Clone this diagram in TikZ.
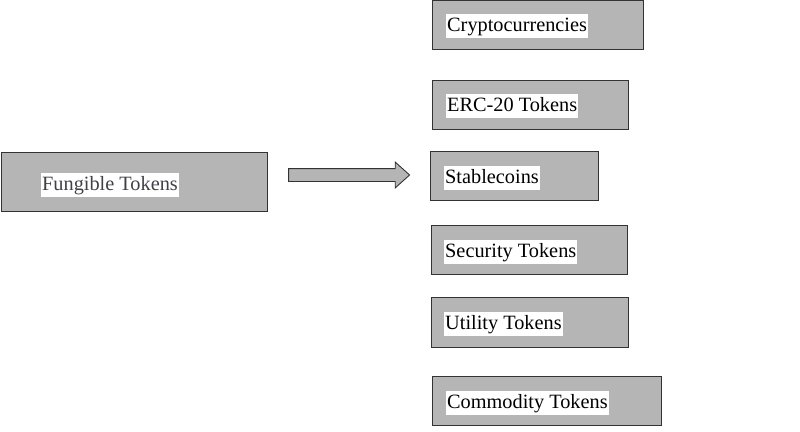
\documentclass[tikz,border=0pt]{standalone}
\usepackage{fontspec}
\setmainfont{Liberation Serif}
\usetikzlibrary{shapes.arrows}
\definecolor{boxgray}{HTML}{B5B5B5}
\definecolor{edgegray}{HTML}{333333}
\definecolor{fgtext}{HTML}{404048}
\tikzset{
  box/.style={draw=edgegray, line width=1.2pt, fill=boxgray, anchor=north west, inner sep=0pt},
  label/.style={fill=white, inner xsep=1pt, inner ysep=2.5pt, anchor=west, font=\fontsize{20.3}{24}\selectfont, text height=15pt, text depth=4pt},
}
\begin{document}
\begin{tikzpicture}[x=1pt,y=-1pt]
\useasboundingbox (0,0) rectangle (800,431);
\node[box, minimum width=266pt, minimum height=59pt] (fung) at (1,152) {};
\node[label, text=fgtext] (fungt) at (41,184.5) {Fungible Tokens};
\node[single arrow, draw=edgegray, fill=boxgray, line width=0.9pt, minimum height=121pt, inner xsep=0pt, inner ysep=6pt, single arrow head extend=6.5pt, single arrow tip angle=84] (arr) at (345.5,175) {};
\node[box, minimum width=211pt, minimum height=49pt] (b1) at (432,0) {};
\node[label] (t1) at (446,26) {Cryptocurrencies};
\node[box, minimum width=196pt, minimum height=49pt] (b2) at (432,80) {};
\node[label] (t2) at (446,106) {ERC-20 Tokens};
\node[box, minimum width=168pt, minimum height=49pt] (b3) at (430,151) {};
\node[label] (t3) at (444,178) {Stablecoins};
\node[box, minimum width=196pt, minimum height=49pt] (b4) at (431,225) {};
\node[label] (t4) at (444,252) {Security Tokens};
\node[box, minimum width=197pt, minimum height=50pt] (b5) at (431,297) {};
\node[label] (t5) at (444,324) {Utility Tokens};
\node[box, minimum width=229pt, minimum height=49pt] (b6) at (432,376) {};
\node[label] (t6) at (446,403) {Commodity Tokens};
\end{tikzpicture}
\end{document}
